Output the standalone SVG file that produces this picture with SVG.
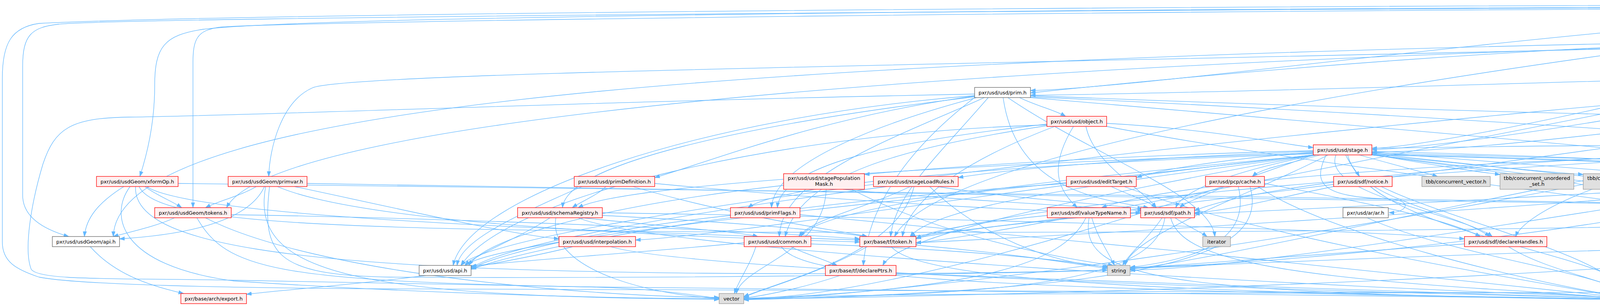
<svg xmlns="http://www.w3.org/2000/svg" width="6742" height="784" viewBox="0 0 6742 784">
<style>
.e{fill:none;stroke:#63B8FF;stroke-width:1.3;marker-end:url(#a)}
.node rect{stroke-width:1.3}
.r rect{fill:#FFF0F0;stroke:#FF0000}
.g rect{fill:#E0E0E0;stroke:#999999}
.w rect{fill:#FFFFFF;stroke:#666666}
.root rect{fill:#999999;stroke:#666666}
text{font-family:"DejaVu Sans","Liberation Sans",sans-serif;font-size:13px;text-anchor:middle;fill:#000000}
</style>
<defs>
<marker id="a" markerWidth="14" markerHeight="10" refX="13" refY="5" orient="auto" markerUnits="userSpaceOnUse"><path d="M0,0.5 L13,5 L0,9.5 z" fill="#63B8FF" stroke="#63B8FF" stroke-width="1"/></marker>
</defs>
<rect width="6742" height="784" fill="#FFFFFF"/>
<g id="edges">
<path class="e" d="M5135,31 C5150,52 5178,64 5192,78"/>
<path class="e" d="M5012,16 C3000,20 800,40 520,75 C420,90 396,120 396,220 C396,320 375,400 358,452"/>
<path class="e" d="M5012,20 C3000,25 700,55 560,70 C505,78 494,100 494,160 L494,532"/>
<path class="e" d="M5012,18 C3000,22 300,45 150,62 C80,70 58,90 58,170 L58,500 C58,560 120,590 176,606"/>
<path class="e" d="M5012,12 C3000,14 600,35 100,60 C30,70 6,110 6,200 L6,620 C6,670 40,690 100,710 C200,730 600,738 1000,740 L3900,750 C4050,754 4110,762 4152,765"/>
<path class="e" d="M5012,24 C4200,40 3000,222 2638,232"/>
<path class="e" d="M5030,31 C4500,200 3700,375 3512,380"/>
<path class="e" d="M5200,31 C5500,100 5530,300 5480,532"/>
<path class="e" d="M5230,22 C5800,40 6129,100 6129,250 C6129,400 5900,480 5870,532"/>
<path class="e" d="M5230,26 C5800,60 6073,150 6073,330 L6073,520 C6073,570 6000,585 5985,606"/>
<path class="e" d="M5230,18 C5900,30 6411,60 6411,160 L6411,520 C6411,620 6200,670 6036,686"/>
<path class="e" d="M5012,28 C3500,200 2400,400 2290,606"/>
<path class="e" d="M5060,31 C4900,200 4850,400 4830,606"/>
<path class="e" d="M5230,12 C5900,18 6561,60 6561,160 L6561,600 C6561,625 6600,622 6700,621 C6760,622 6720,640 6450,690 C6000,745 5000,748 4300,749 C3000,751 2100,752 1904,765"/>
<path class="e" d="M5250,104 C5300,128 5350,140 5375,152"/>
<path class="e" d="M5103,94 C2000,140 300,250 290,606"/>
<path class="e" d="M5103,98 C2500,150 700,300 580,532"/>
<path class="e" d="M5103,100 C3000,160 900,180 800,225 C720,260 690,380 688,452"/>
<path class="e" d="M5103,90 C4000,100 3000,200 2638,238"/>
<path class="e" d="M5140,104 C4500,250 3800,370 3512,384"/>
<path class="e" d="M5324,100 C5800,150 6100,300 6180,452"/>
<path class="e" d="M5214,104 L5214,400 C5214,500 4870,560 4850,606"/>
<path class="e" d="M5324,104 C5450,200 5470,400 5468,532"/>
<path class="e" d="M5324,98 C5700,200 5830,400 5845,532"/>
<path class="e" d="M5324,96 C6000,120 6306,150 6306,300 L6306,500 C6306,580 6150,612 6036,617"/>
<path class="e" d="M5324,94 C6000,130 6050,300 6050,500 L6050,640 C6050,660 6000,668 5990,680"/>
<path class="e" d="M5103,104 C4000,300 2600,600 2345,622"/>
<path class="e" d="M5230,104 C5000,400 4500,700 4231,760"/>
<path class="e" d="M5324,92 C6200,110 6510,180 6510,300 L6510,600 C6510,700 6300,725 5800,738 C5000,752 4500,760 4231,766"/>
<path class="e" d="M5340,170 C3500,300 1300,550 1180,680"/>
<path class="e" d="M5340,165 C4500,200 3000,240 2638,244"/>
<path class="e" d="M5360,178 C4500,300 3800,388 3512,390"/>
<path class="e" d="M5415,178 L5415,400 C5415,480 4900,560 4865,606"/>
<path class="e" d="M5425,178 C5470,300 5475,450 5478,532"/>
<path class="e" d="M5450,178 C5600,300 5800,450 5835,532"/>
<path class="e" d="M5470,178 C5800,350 5930,450 5950,606"/>
<path class="e" d="M5490,172 C6300,200 6461,300 6461,450 L6461,600 C6461,680 6300,720 5800,735 C5000,755 4500,760 4231,764"/>
<path class="e" d="M5490,176 C5700,300 5860,500 5860,600 C5860,650 5900,670 5925,680"/>
<path class="e" d="M5340,178 C4500,350 2800,550 2330,606"/>
<path class="e" d="M2610,250 C2650,270 2700,282 2728,298"/>
<path class="e" d="M2495,245 C1800,300 1200,500 1160,680"/>
<path class="e" d="M2520,250 C2300,350 2000,450 1995,606"/>
<path class="e" d="M2500,250 C2200,330 1980,430 1975,532"/>
<path class="e" d="M2495,248 C1900,320 1450,420 1440,532"/>
<path class="e" d="M2495,246 C2100,300 1800,420 1676,455"/>
<path class="e" d="M2568,250 C2600,480 2800,510 2940,532"/>
<path class="e" d="M2580,250 C2800,400 3100,500 3110,606"/>
<path class="e" d="M2495,250 C2300,400 2220,550 2210,680"/>
<path class="e" d="M2638,245 C3500,280 4500,305 5017,311"/>
<path class="e" d="M2638,248 C3800,300 4600,370 5011,384"/>
<path class="e" d="M2638,250 C3800,350 5000,450 5420,532"/>
<path class="e" d="M2530,250 C2400,400 2290,500 2280,606"/>
<path class="e" d="M2495,241 C1500,260 700,295 330,300 C180,302 140,330 110,420 C80,520 60,640 80,690 C100,720 300,712 600,718 L1500,735 C1700,740 1800,760 1841,765"/>
<path class="e" d="M2833,316 C3100,330 3300,372 3362,378"/>
<path class="e" d="M2748,324 C2690,420 2700,480 2758,532"/>
<path class="e" d="M2680,320 C2000,340 1300,500 1180,680"/>
<path class="e" d="M2680,322 C2300,380 2050,450 2010,606"/>
<path class="e" d="M2680,318 C2300,360 2000,420 1990,532"/>
<path class="e" d="M2780,324 C2800,420 2920,480 2960,532"/>
<path class="e" d="M2700,324 C2500,400 2330,500 2310,606"/>
<path class="e" d="M2833,324 C3500,450 4500,550 4775,606"/>
<path class="e" d="M3445,397 C3455,420 3470,435 3480,452"/>
<path class="e" d="M3480,397 C3560,420 3640,440 3680,452"/>
<path class="e" d="M3510,395 C3650,420 3780,440 3840,447"/>
<path class="e" d="M3512,393 C3750,420 3950,440 4053,447"/>
<path class="e" d="M3512,390 C3900,420 4200,445 4300,452"/>
<path class="e" d="M3420,397 C3380,500 3750,550 3820,606"/>
<path class="e" d="M3395,397 C3360,470 3380,505 3560,510 C3620,515 3600,545 3556,545"/>
<path class="e" d="M3380,397 C3300,420 3230,430 3206,452"/>
<path class="e" d="M3362,390 C3100,410 2950,440 2910,455"/>
<path class="e" d="M3362,388 C3000,400 2600,430 2453,455"/>
<path class="e" d="M3362,386 C2800,400 2400,430 2213,447"/>
<path class="e" d="M3362,392 C2500,420 1600,470 1480,532"/>
<path class="e" d="M3362,394 C2600,420 2000,470 1915,532"/>
<path class="e" d="M3362,397 C2600,480 1900,600 1627,615"/>
<path class="e" d="M3370,397 C2800,450 2100,520 2050,606"/>
<path class="e" d="M3362,397 C2500,500 1300,600 1190,680"/>
<path class="e" d="M3370,397 C3200,430 3030,480 3010,532"/>
<path class="e" d="M3512,388 C4000,400 4500,420 4560,452"/>
<path class="e" d="M3512,392 C4200,410 4750,420 4824,452"/>
<path class="e" d="M3512,380 C4200,370 4800,365 5011,375"/>
<path class="e" d="M3512,395 C4500,420 5300,460 5400,532"/>
<path class="e" d="M3512,397 C4200,480 4750,550 4790,606"/>
<path class="e" d="M3512,397 C4300,470 4900,550 4993,606"/>
<path class="e" d="M3512,397 C4600,420 5150,470 5160,550 C5165,620 5145,660 5140,680"/>
<path class="e" d="M3370,397 C2900,460 2400,520 2330,606"/>
<path class="e" d="M3362,397 C2800,500 2300,600 2260,680"/>
<path class="e" d="M3400,397 C3200,500 2900,600 2880,680"/>
<path class="e" d="M3512,397 C4300,500 4850,600 4900,680"/>
<path class="e" d="M3362,397 C2800,600 2200,765 1904,765"/>
<path class="e" d="M3450,397 C3500,600 4150,650 4180,752"/>
<path class="e" d="M4512,397 C4540,420 4570,430 4580,452"/>
<path class="e" d="M4552,397 C4700,420 4800,430 4835,452"/>
<path class="e" d="M4431,397 C4420,420 4400,435 4395,452"/>
<path class="e" d="M4415,397 C4100,450 3900,550 3880,606"/>
<path class="e" d="M4415,395 C3600,420 3000,470 2820,532"/>
<path class="e" d="M4520,397 C4700,480 4800,550 4810,606"/>
<path class="e" d="M4576,392 C5000,430 5300,500 5384,540"/>
<path class="e" d="M4415,397 C3500,450 2600,520 2345,612"/>
<path class="e" d="M4560,397 C4700,500 4900,600 4920,680"/>
<path class="e" d="M4415,397 C3800,500 3200,650 2893,690"/>
<path class="e" d="M4415,397 C3500,600 2300,760 1904,767"/>
<path class="e" d="M4500,397 C4400,550 4250,650 4210,752"/>
<path class="e" d="M4415,390 C3700,420 3200,480 3058,540"/>
<path class="e" d="M5157,324 C5600,450 5700,600 5500,700 C5200,760 4500,765 4231,765"/>
<path class="e" d="M5175,392 C5600,450 5650,650 5400,720 C5000,765 4400,765 4231,767"/>
<path class="e" d="M5011,395 C4000,550 3200,690 2893,692"/>
<path class="e" d="M317,478 C250,520 220,560 216,606"/>
<path class="e" d="M371,478 C400,500 440,515 465,532"/>
<path class="e" d="M333,478 C280,550 300,680 600,720 C1200,760 1700,765 1841,765"/>
<path class="e" d="M347,478 C340,620 700,690 1800,700 C2400,705 2700,695 2835,692"/>
<path class="e" d="M356,478 C400,570 800,590 2000,595 C4000,600 5200,560 5384,545"/>
<path class="e" d="M375,478 C500,560 1500,590 2201,615"/>
<path class="e" d="M456,470 C1500,480 4500,520 5757,545"/>
<path class="e" d="M656,478 C620,500 560,515 526,532"/>
<path class="e" d="M677,478 C640,560 500,600 306,612"/>
<path class="e" d="M754,478 C1000,530 1300,600 1431,612"/>
<path class="e" d="M710,478 C900,560 1500,600 2201,620"/>
<path class="e" d="M690,478 C670,650 700,705 1000,710 C1800,715 2600,700 2835,692"/>
<path class="e" d="M680,478 C640,700 900,760 1841,767"/>
<path class="e" d="M786,470 C2000,500 4500,520 5384,538"/>
<path class="e" d="M1551,478 C1530,500 1490,515 1465,532"/>
<path class="e" d="M1490,478 C1300,560 1180,620 1170,680"/>
<path class="e" d="M1676,470 C2200,520 2700,545 2920,545"/>
<path class="e" d="M1620,478 C1900,560 2150,590 2220,606"/>
<path class="e" d="M2006,475 C1600,520 1250,600 1200,680"/>
<path class="e" d="M2158,485 C2400,510 2800,530 2925,540"/>
<path class="e" d="M2115,485 C2110,650 1900,680 1885,752"/>
<path class="e" d="M2180,485 C2400,600 2700,660 2850,680"/>
<path class="e" d="M2270,478 C1800,540 1300,620 1200,690"/>
<path class="e" d="M2330,478 C2200,540 2080,560 2045,606"/>
<path class="e" d="M2400,478 C2600,510 2850,525 2925,535"/>
<path class="e" d="M2340,478 C2300,650 2000,720 1904,760"/>
<path class="e" d="M2380,478 C2500,600 2700,680 2840,683"/>
<path class="e" d="M2845,478 C2890,500 2940,515 2960,532"/>
<path class="e" d="M2730,470 C2000,520 1400,620 1206,690"/>
<path class="e" d="M2878,478 C3200,600 3800,700 4152,762"/>
<path class="e" d="M3134,478 C3090,500 3040,515 3020,532"/>
<path class="e" d="M3170,478 C3200,600 3100,660 2893,685"/>
<path class="e" d="M3200,478 C3250,650 3000,740 1904,768"/>
<path class="e" d="M3237,470 C3500,520 3700,560 3790,606"/>
<path class="e" d="M3220,478 C3400,600 3900,720 4152,760"/>
<path class="e" d="M3518,478 C3600,530 3750,560 3814,606"/>
<path class="e" d="M3414,478 C3300,500 3150,540 3058,545"/>
<path class="e" d="M3536,478 C3700,560 4100,650 4170,752"/>
<path class="e" d="M4361,478 C4320,600 4220,680 4203,752"/>
<path class="e" d="M4624,478 C4700,540 4770,570 4793,606"/>
<path class="e" d="M4680,470 C5000,500 5300,520 5384,535"/>
<path class="e" d="M4533,470 C4000,500 3300,540 3058,548"/>
<path class="e" d="M4560,478 C4200,580 3300,680 2893,685"/>
<path class="e" d="M4580,478 C4450,600 4280,700 4231,760"/>
<path class="e" d="M4533,478 C3800,540 2800,600 2345,622"/>
<path class="e" d="M4855,478 C4700,600 4400,720 4231,758"/>
<path class="e" d="M6139,478 C6050,500 5950,515 5906,532"/>
<path class="e" d="M6188,478 C6150,700 6000,720 5500,740 C4800,760 4400,765 4231,768"/>
<path class="e" d="M447,558 C400,580 330,595 290,606"/>
<path class="e" d="M592,550 C1200,560 1900,590 2201,612"/>
<path class="e" d="M526,558 C800,700 1500,760 1841,762"/>
<path class="e" d="M504,558 C580,690 700,720 1500,735 C2500,745 3800,760 4152,766"/>
<path class="e" d="M1408,558 C1330,610 1220,650 1190,680"/>
<path class="e" d="M1490,558 C1700,580 1900,595 1940,606"/>
<path class="e" d="M1423,558 C1400,700 1700,760 1841,764"/>
<path class="e" d="M1542,552 C1900,570 2100,590 2220,606"/>
<path class="e" d="M1542,545 C2500,560 3500,590 3749,612"/>
<path class="e" d="M1480,558 C1700,650 3500,740 4152,762"/>
<path class="e" d="M1870,552 C1600,580 1300,640 1206,688"/>
<path class="e" d="M2048,550 C2600,600 3800,720 4152,762"/>
<path class="e" d="M2795,558 C2810,610 2840,650 2853,680"/>
<path class="e" d="M2681,552 C2500,570 2380,590 2345,612"/>
<path class="e" d="M2780,558 C2720,680 2500,740 1904,766"/>
<path class="e" d="M2788,558 C2760,720 3000,750 4152,768"/>
<path class="e" d="M2975,558 C2940,610 2890,650 2874,680"/>
<path class="e" d="M3008,558 C3040,580 3075,595 3090,606"/>
<path class="e" d="M2920,545 C2700,560 2450,590 2345,610"/>
<path class="e" d="M2982,558 C2960,720 2600,755 1904,766"/>
<path class="e" d="M2997,558 C3020,650 3200,700 3800,740 C4000,752 4100,760 4152,765"/>
<path class="e" d="M3500,558 C3700,650 4100,700 4165,752"/>
<path class="e" d="M5384,555 C5200,575 4950,595 4884,612"/>
<path class="e" d="M5424,558 C5300,620 5100,660 4970,688"/>
<path class="e" d="M5449,558 C5400,700 5000,750 4231,764"/>
<path class="e" d="M5862,558 C5890,580 5920,595 5935,606"/>
<path class="e" d="M5808,558 C5600,640 5000,740 4231,762"/>
<path class="e" d="M231,632 C300,710 400,735 470,752"/>
<path class="e" d="M1466,632 C1380,655 1260,675 1206,686"/>
<path class="e" d="M1563,632 C1800,700 3500,750 4152,764"/>
<path class="e" d="M1905,622 C1600,650 1300,670 1206,682"/>
<path class="e" d="M2024,632 C2060,650 2110,665 2143,680"/>
<path class="e" d="M1935,632 C1920,680 1890,720 1880,752"/>
<path class="e" d="M2076,625 C2500,640 2750,670 2835,685"/>
<path class="e" d="M2000,632 C2050,700 2300,740 4152,766"/>
<path class="e" d="M2345,628 C2600,650 2780,680 2835,688"/>
<path class="e" d="M2220,632 C2100,700 1950,740 1904,762"/>
<path class="e" d="M2282,632 C2350,720 3000,750 4152,766"/>
<path class="e" d="M3862,632 C3950,690 4120,720 4167,752"/>
<path class="e" d="M3749,625 C3400,650 3000,680 2893,688"/>
<path class="e" d="M4833,632 C4860,655 4885,670 4898,680"/>
<path class="e" d="M4804,632 C4700,720 4400,750 4231,762"/>
<path class="e" d="M4747,625 C4000,640 3300,670 2893,688"/>
<path class="e" d="M4760,632 C4000,720 2500,760 1904,766"/>
<path class="e" d="M5035,632 C5000,655 4965,670 4950,680"/>
<path class="e" d="M5050,632 C5000,720 4600,755 4231,764"/>
<path class="e" d="M5952,632 C5950,650 5950,665 5953,680"/>
<path class="e" d="M5930,632 C5700,720 5000,750 4231,763"/>
<path class="e" d="M5968,680 C5970,665 5970,650 5968,632"/>
<path class="e" d="M5888,700 C5500,740 4800,760 4231,766"/>
<path class="e" d="M1090,706 C900,730 700,745 631,754"/>
<path class="e" d="M2150,706 C2050,740 1950,758 1904,764"/>
<path class="e" d="M2294,700 C2800,720 3800,755 4152,765"/>
<path class="e" d="M5059,700 C4800,730 4400,755 4231,763"/>
</g>
<g id="n_xformable" class="node root"><rect x="5012" y="5" width="218" height="26"/><text x="5121" y="22.5">pxr/usd/usdGeom/xformable.h</text></g>
<g id="n_imageable" class="node w"><rect x="5103" y="78" width="221" height="26"/><text x="5213.5" y="95.5">pxr/usd/usdGeom/imageable.h</text></g>
<g id="n_typed" class="node r"><rect x="5340" y="152" width="150" height="26"/><text x="5415" y="169.5">pxr/usd/usd/typed.h</text></g>
<g id="n_prim" class="node w"><rect x="2495" y="224" width="143" height="26"/><text x="2566.5" y="241.5">pxr/usd/usd/prim.h</text></g>
<g id="n_object" class="node r"><rect x="2680" y="298" width="153" height="26"/><text x="2756.5" y="315.5">pxr/usd/usd/object.h</text></g>
<g id="n_refBase" class="node r"><rect x="5017" y="298" width="157" height="26"/><text x="5095.5" y="315.5">pxr/base/tf/refBase.h</text></g>
<g id="n_stage" class="node r"><rect x="3362" y="371" width="150" height="26"/><text x="3437" y="388.5">pxr/usd/usd/stage.h</text></g>
<g id="n_schema" class="node r"><rect x="4415" y="371" width="161" height="26"/><text x="4495.5" y="388.5">pxr/usd/sdf/schema.h</text></g>
<g id="n_trace" class="node r"><rect x="5011" y="371" width="164" height="26"/><text x="5093" y="388.5">pxr/base/trace/trace.h</text></g>
<g id="n_xformOp" class="node r"><rect x="247" y="452" width="209" height="26"/><text x="351.5" y="469.5">pxr/usd/usdGeom/xformOp.h</text></g>
<g id="n_primvar" class="node r"><rect x="584" y="452" width="202" height="26"/><text x="685" y="469.5">pxr/usd/usdGeom/primvar.h</text></g>
<g id="n_primDefinition" class="node r"><rect x="1470" y="452" width="206" height="26"/><text x="1573" y="469.5">pxr/usd/usd/primDefinition.h</text></g>
<g id="n_stagePopulationMask" class="node r"><rect x="2006" y="445" width="207" height="40"/><text x="2109.5" y="460.5">pxr/usd/usd/stagePopulation</text><text x="2109.5" y="475.5">Mask.h</text></g>
<g id="n_stageLoadRules" class="node r"><rect x="2236" y="452" width="217" height="26"/><text x="2344.5" y="469.5">pxr/usd/usd/stageLoadRules.h</text></g>
<g id="n_editTarget" class="node r"><rect x="2730" y="452" width="179" height="26"/><text x="2819.5" y="469.5">pxr/usd/usd/editTarget.h</text></g>
<g id="n_pcpCache" class="node r"><rect x="3086" y="452" width="151" height="26"/><text x="3161.5" y="469.5">pxr/usd/pcp/cache.h</text></g>
<g id="n_sdfNotice" class="node r"><rect x="3414" y="452" width="150" height="26"/><text x="3489" y="469.5">pxr/usd/sdf/notice.h</text></g>
<g id="n_tbbVector" class="node g"><rect x="3640" y="452" width="175" height="26"/><text x="3727.5" y="469.5">tbb/concurrent_vector.h</text></g>
<g id="n_tbbSet" class="node g"><rect x="3840" y="445" width="189" height="40"/><text x="3934.5" y="460.5">tbb/concurrent_unordered</text><text x="3934.5" y="475.5">_set.h</text></g>
<g id="n_tbbHash" class="node g"><rect x="4053" y="445" width="155" height="40"/><text x="4130.5" y="460.5">tbb/concurrent_hash</text><text x="4130.5" y="475.5">_map.h</text></g>
<g id="n_weakBase" class="node r"><rect x="4283" y="452" width="175" height="26"/><text x="4370.5" y="469.5">pxr/base/tf/weakBase.h</text></g>
<g id="n_sdfTypes" class="node r"><rect x="4533" y="452" width="147" height="26"/><text x="4606.5" y="469.5">pxr/usd/sdf/types.h</text></g>
<g id="n_hashmap" class="node r"><rect x="4805" y="452" width="168" height="26"/><text x="4889" y="469.5">pxr/base/tf/hashmap.h</text></g>
<g id="n_bbox3d" class="node r"><rect x="6113" y="452" width="158" height="26"/><text x="6192" y="469.5">pxr/base/gf/bbox3d.h</text></g>
<g id="n_tokens" class="node r"><rect x="396" y="532" width="196" height="26"/><text x="494" y="549.5">pxr/usd/usdGeom/tokens.h</text></g>
<g id="n_schemaRegistry" class="node r"><rect x="1325" y="532" width="217" height="26"/><text x="1433.5" y="549.5">pxr/usd/usd/schemaRegistry.h</text></g>
<g id="n_primFlags" class="node r"><rect x="1870" y="532" width="178" height="26"/><text x="1959" y="549.5">pxr/usd/usd/primFlags.h</text></g>
<g id="n_valueTypeName" class="node r"><rect x="2681" y="532" width="213" height="26"/><text x="2787.5" y="549.5">pxr/usd/sdf/valueTypeName.h</text></g>
<g id="n_path" class="node r"><rect x="2920" y="532" width="138" height="26"/><text x="2989" y="549.5">pxr/usd/sdf/path.h</text></g>
<g id="n_ar" class="node w"><rect x="3438" y="532" width="116" height="26"/><text x="3496" y="549.5">pxr/usd/ar/ar.h</text></g>
<g id="n_value" class="node r"><rect x="5384" y="532" width="146" height="26"/><text x="5457" y="549.5">pxr/base/vt/value.h</text></g>
<g id="n_matrix4d" class="node r"><rect x="5757" y="532" width="171" height="26"/><text x="5842.5" y="549.5">pxr/base/gf/matrix4d.h</text></g>
<g id="n_geomApi" class="node w"><rect x="134" y="606" width="172" height="26"/><text x="220" y="623.5">pxr/usd/usdGeom/api.h</text></g>
<g id="n_interpolation" class="node r"><rect x="1431" y="606" width="196" height="26"/><text x="1529" y="623.5">pxr/usd/usd/interpolation.h</text></g>
<g id="n_common" class="node r"><rect x="1905" y="606" width="171" height="26"/><text x="1990.5" y="623.5">pxr/usd/usd/common.h</text></g>
<g id="n_token" class="node r"><rect x="2201" y="606" width="144" height="26"/><text x="2273" y="623.5">pxr/base/tf/token.h</text></g>
<g id="n_iterator" class="node g"><rect x="3079" y="606" width="71" height="26"/><text x="3114.5" y="623.5">iterator</text></g>
<g id="n_declareHandles" class="node r"><rect x="3749" y="606" width="211" height="26"/><text x="3854.5" y="623.5">pxr/usd/sdf/declareHandles.h</text></g>
<g id="n_type" class="node r"><rect x="4747" y="606" width="137" height="26"/><text x="4815.5" y="623.5">pxr/base/tf/type.h</text></g>
<g id="n_dispatcher" class="node r"><rect x="4959" y="606" width="198" height="26"/><text x="5058" y="623.5">pxr/base/work/dispatcher.h</text></g>
<g id="n_vec3d" class="node r"><rect x="5885" y="606" width="151" height="26"/><text x="5960.5" y="623.5">pxr/base/gf/vec3d.h</text></g>
<g id="n_usdApi" class="node w"><rect x="1073" y="680" width="133" height="26"/><text x="1139.5" y="697.5">pxr/usd/usd/api.h</text></g>
<g id="n_declarePtrs" class="node r"><rect x="2113" y="680" width="181" height="26"/><text x="2203.5" y="697.5">pxr/base/tf/declarePtrs.h</text></g>
<g id="n_string" class="node g"><rect x="2835" y="680" width="58" height="26"/><text x="2864" y="697.5">string</text></g>
<g id="n_typeTraits" class="node g"><rect x="4876" y="680" width="93" height="26"/><text x="4922.5" y="697.5">type_traits</text></g>
<g id="n_arNotice" class="node r"><rect x="5059" y="680" width="142" height="26"/><text x="5130" y="697.5">pxr/usd/ar/notice.h</text></g>
<g id="n_vec3f" class="node r"><rect x="5888" y="680" width="147" height="26"/><text x="5961.5" y="697.5">pxr/base/gf/vec3f.h</text></g>
<g id="n_export" class="node r"><rect x="463" y="752" width="168" height="26"/><text x="547" y="769.5">pxr/base/arch/export.h</text></g>
<g id="n_vector" class="node g"><rect x="1841" y="752" width="63" height="26"/><text x="1872.5" y="769.5">vector</text></g>
<g id="n_pxr" class="node w"><rect x="4152" y="752" width="79" height="26"/><text x="4191.5" y="769.5">pxr/pxr.h</text></g>
</svg>
